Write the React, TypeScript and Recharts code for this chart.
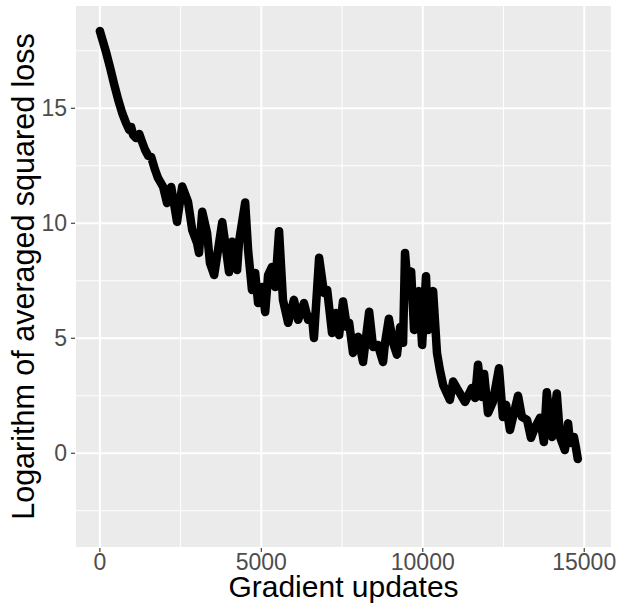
import React from "react"
import { LineChart, Line, XAxis, YAxis, CartesianGrid, Label } from "recharts"

// gradient update index and log of the averaged squared loss
const updates = [
  0, 100, 200, 320, 440, 570, 690, 810, 910, 970, 1030, 1120, 1220, 1310, 1400, 1500,
  1590, 1710, 1800, 1960, 2080, 2210, 2390, 2550, 2730, 2860, 3010, 3070, 3170, 3320,
  3410, 3540, 3660, 3790, 3910, 4000, 4090, 4250, 4310, 4500, 4590, 4710, 4810, 4900,
  5020, 5120, 5210, 5330, 5430, 5550, 5670, 5830, 6010, 6140, 6320, 6450, 6570, 6630,
  6790, 6940, 7040, 7190, 7310, 7410, 7530, 7650, 7720, 7840, 8000, 8150, 8340, 8460,
  8610, 8770, 8830, 8950, 9080, 9200, 9300, 9390, 9450, 9540, 9640, 9730, 9880, 9980,
  10100, 10160, 10320, 10440, 10530, 10630, 10840, 10940, 11090, 11310, 11520, 11620,
  11710, 11830, 11900, 12020, 12170, 12360, 12480, 12580, 12700, 12950, 13070, 13230,
  13350, 13470, 13630, 13750, 13840, 14000, 14150, 14250, 14400, 14500, 14560, 14680,
  14740, 14800,
]

const logLoss = [
  18.36, 17.88, 17.4, 16.75, 16.06, 15.36, 14.8, 14.36, 14.06, 14.19, 13.84, 13.71, 13.88,
  13.53, 13.19, 12.93, 12.88, 12.32, 11.97, 11.58, 10.88, 11.58, 10.06, 11.6, 10.93, 9.71,
  9.14, 8.71, 10.5, 9.58, 8.27, 7.75, 8.84, 10.05, 8.84, 7.88, 9.2, 7.97, 9.2, 10.9,
  8.84, 7.1, 7.84, 6.53, 7.23, 6.14, 7.75, 8.1, 7.23, 9.65, 6.67, 5.67, 6.67, 5.8, 6.53,
  5.8, 5.93, 5.01, 8.5, 6.97, 7.1, 5.23, 6.1, 5.14, 6.6, 5.49, 5.67, 4.36, 5.06, 3.97,
  6.15, 4.62, 4.71, 3.97, 4.8, 5.85, 4.8, 4.28, 5.49, 4.8, 8.71, 7.14, 7.9, 5.36, 7.05,
  4.71, 7.7, 5.36, 7.05, 4.36, 3.62, 2.97, 2.32, 3.12, 2.75, 2.23, 2.84, 2.4, 3.85, 2.45,
  3.45, 1.75, 2.23, 3.7, 1.58, 2.1, 1.01, 2.5, 1.58, 1.45, 0.67, 1.1, 1.54, 0.49, 2.65,
  0.71, 2.6, 0.71, 0.14, 1.3, 0.45, 0.71, 0.27, -0.25,
]

const xTicks = [0, 5000, 10000, 15000]
const yTicks = [0, 5, 10, 15]
const xMinor = [2500, 7500, 12500]
const yMinor = [-2.5, 2.5, 7.5, 12.5, 17.5]

const data = updates.map((step, i) => ({ step, loss: logLoss[i] }))

const font = "'Liberation Sans', Arial, sans-serif"

function YTitle({ viewBox }: any) {
  const cx = 34
  const cy = viewBox.y + viewBox.height / 2
  return (
    <text
      x={cx}
      y={cy}
      transform={`rotate(-90, ${cx}, ${cy})`}
      textAnchor="middle"
      fontSize={30.5}
      fontFamily={font}
      fill="#000000"
    >
      Logarithm of averaged squared loss
    </text>
  )
}

function XTitle({ viewBox }: any) {
  const cx = viewBox.x + viewBox.width / 2
  return (
    <text x={cx} y={597} textAnchor="middle" fontSize={30} fontFamily={font} fill="#000000">
      Gradient updates
    </text>
  )
}

export default function App() {
  return (
    <div style={{ width: 621, height: 605, background: "#ffffff" }}>
      <style>{"body{margin:0}"}</style>
      <LineChart width={621} height={605} data={data} margin={{ top: 5, right: 9, left: 0, bottom: 0 }}>
        <CartesianGrid fill="#EBEBEB" stroke="#FFFFFF" strokeWidth={2} />
        <CartesianGrid
          stroke="#FFFFFF"
          strokeWidth={1}
          horizontalValues={yMinor}
          verticalValues={xMinor}
        />
        <XAxis
          dataKey="step"
          type="number"
          domain={[-770, 15860]}
          allowDataOverflow
          ticks={xTicks}
          height={57}
          axisLine={false}
          tickSize={4}
          tickMargin={2}
          tickLine={{ stroke: "#333333", strokeWidth: 1.1 }}
          tick={{ fill: "#4D4D4D", fontSize: 23, fontFamily: font }}
          interval={0}
        >
          <Label content={<XTitle />} />
        </XAxis>
        <YAxis
          type="number"
          domain={[-4.12, 19.49]}
          allowDataOverflow
          ticks={yTicks}
          width={75}
          axisLine={false}
          tickSize={4}
          tickMargin={4}
          tickLine={{ stroke: "#333333", strokeWidth: 1.1 }}
          tick={{ fill: "#4D4D4D", fontSize: 23, fontFamily: font }}
          interval={0}
        >
          <Label content={<YTitle />} />
        </YAxis>
        <Line
          dataKey="loss"
          type="linear"
          stroke="#000000"
          strokeWidth={8.5}
          strokeLinejoin="round"
          strokeLinecap="round"
          dot={false}
          isAnimationActive={false}
        />
      </LineChart>
    </div>
  )
}
